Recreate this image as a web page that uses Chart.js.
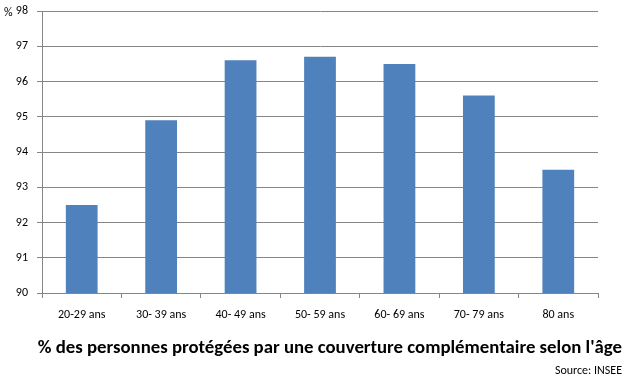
<!DOCTYPE html>
<html>
<head>
<meta charset="utf-8">
<script src="https://cdn.jsdelivr.net/npm/chart.js@4/dist/chart.umd.min.js"></script>
<style>
  html, body { margin: 0; padding: 0; background: #fff; }
  #wrap { width: 627px; height: 382px; }
</style>
</head>
<body>
<div id="wrap"><canvas id="chart"></canvas></div>
<script>
// Data
const categories = ['20-29 ans', '30- 39 ans', '40- 49 ans', '50- 59 ans', '60- 69 ans', '70- 79 ans', '80 ans'];
const values = [92.5, 94.9, 96.6, 96.7, 96.5, 95.6, 93.5];
const yMin = 90;
const yMax = 98;
const titleText = "% des personnes protégées par une couverture complémentaire selon l'âge";
const sourceText = 'Source: INSEE';

const FONT = 'Carlito, Calibri, "Open Sans", sans-serif';
const GRID = '#868686';

// the small "%" next to the top tick, plus the title and source under the axis
const extraText = {
    id: 'extraText',
    afterDraw(chart) {
        const y = chart.scales.y;
        const x = chart.scales.x;
        const ctx = chart.ctx;
        const right = chart.width - 5;
        ctx.save();
        ctx.fillStyle = '#000';
        ctx.textBaseline = 'middle';

        ctx.font = '12px ' + FONT;
        ctx.textAlign = 'left';
        ctx.fillText('%', 4, y.getPixelForValue(yMax) + 2);

        ctx.textAlign = 'right';
        ctx.font = 'bold 18.8px ' + FONT;
        ctx.fillText(titleText, right, x.bottom + 25);

        ctx.font = '12px ' + FONT;
        ctx.fillText(sourceText, right, x.bottom + 48);
        ctx.restore();
    }
};

const ctx = document.getElementById('chart').getContext('2d');
const chart = new Chart(ctx, {
    type: 'bar',
    data: {
        labels: categories,
        datasets: [{
            data: values,
            backgroundColor: '#4F81BD',
            borderWidth: 0,
            categoryPercentage: 1,
            barPercentage: 0.4
        }]
    },
    options: {
        responsive: true,
        maintainAspectRatio: false,
        animation: false,
        layout: { padding: { top: 11, right: 29, left: 0, bottom: 59 } },
        plugins: {
            legend: { display: false },
            tooltip: { enabled: false }
        },
        scales: {
            x: {
                afterFit(scale) { scale.height = 30; },
                grid: {
                    offset: true,
                    drawOnChartArea: false,
                    color: GRID,
                    tickLength: 5
                },
                border: { color: GRID },
                ticks: { color: '#000', font: { family: FONT, size: 12 }, padding: 10, maxRotation: 0 }
            },
            y: {
                min: yMin,
                max: yMax,
                afterFit(scale) {
                    scale.width = 42;
                    scale.paddingTop = 0;
                    scale.paddingBottom = 0;
                },
                grid: { color: GRID, tickLength: 5 },
                border: { color: GRID },
                ticks: { stepSize: 1, color: '#000', font: { family: FONT, size: 12 }, padding: 9 }
            }
        }
    },
    plugins: [extraText]
});
</script>
</body>
</html>
